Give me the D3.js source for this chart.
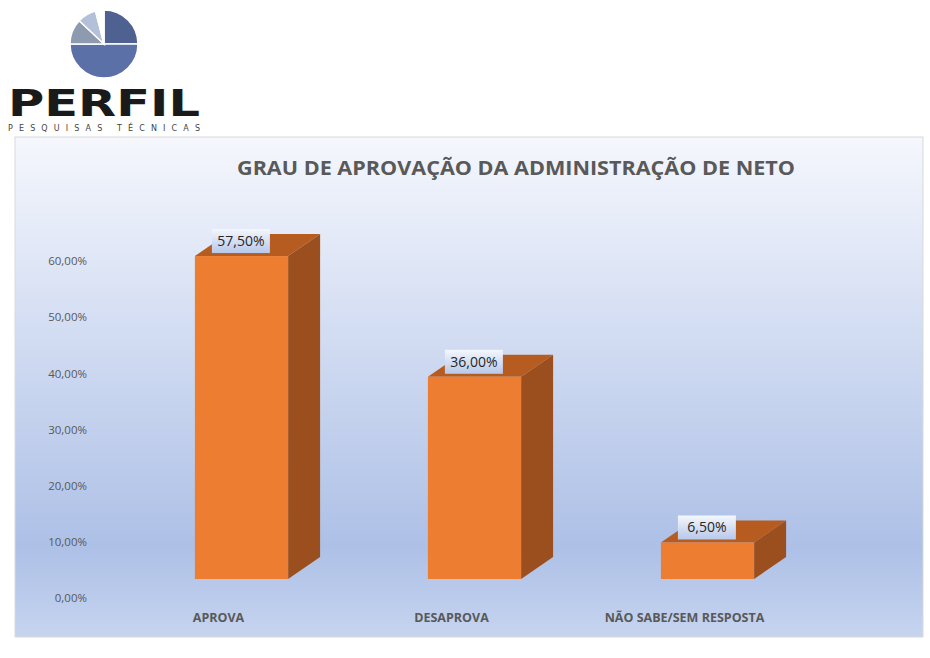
<!DOCTYPE html>
<html>
<head>
<meta charset="utf-8">
<script src="https://cdnjs.cloudflare.com/ajax/libs/d3/7.8.5/d3.min.js"></script>
<style>body{margin:0;background:#fff;font-family:"Open Sans",sans-serif;}</style>
</head>
<body>
<svg id="chart" width="930" height="658"></svg>
<script>
var categories = ["APROVA", "DESAPROVA", "NÃO SABE/SEM RESPOSTA"];
var values = [57.5, 36.0, 6.5];
var tickValues = [0, 10, 20, 30, 40, 50, 60];
var logoSlices = [25, 50, 12, 9, 4];
var logoColors = ["#4f6191", "#5c70a8", "#8e9ab0", "#b4c0da", "#ffffff"];

var svg = d3.select("#chart");
var fmt = function(v){ return d3.format(".2f")(v).replace(".", ",") + "%"; };

// logo
var pie = d3.pie().sort(null).startAngle(0).endAngle(2*Math.PI)(logoSlices);
var arc = d3.arc().innerRadius(0).outerRadius(34);
svg.append("g").attr("transform", "translate(104,44)")
	.selectAll("path").data(pie).enter().append("path")
	.attr("d", arc).attr("fill", function(d, i){ return logoColors[i]; })
	.attr("stroke", "#fff").attr("stroke-width", 1.5);
svg.append("text").attr("x", 8).attr("y", 116).attr("textLength", 192).attr("lengthAdjust", "spacingAndGlyphs")
	.attr("font-family", "DejaVu Sans").attr("font-weight", "bold").attr("font-size", 38).attr("fill", "#1a1a1a").text("PERFIL");
svg.append("text").attr("x", 8).attr("y", 131).attr("textLength", 192)
	.attr("font-family", "DejaVu Sans").attr("font-size", 8).attr("fill", "#444").text("PESQUISAS TÉCNICAS");

// panel
var defs = svg.append("defs");
var g1 = defs.append("linearGradient").attr("id", "bg").attr("x1", 0).attr("y1", 0).attr("x2", 0).attr("y2", 1);
g1.append("stop").attr("offset", "0").attr("stop-color", "#f5f7fd");
g1.append("stop").attr("offset", "0.82").attr("stop-color", "#adc0e6");
g1.append("stop").attr("offset", "1").attr("stop-color", "#c6d4ef");
var g2 = defs.append("linearGradient").attr("id", "lab").attr("x1", 0).attr("y1", 0).attr("x2", 0).attr("y2", 1);
g2.append("stop").attr("offset", "0").attr("stop-color", "#f4f7fd");
g2.append("stop").attr("offset", "1").attr("stop-color", "#b7c8ea");

svg.append("rect").attr("x", 15).attr("y", 137).attr("width", 908).attr("height", 500)
	.attr("fill", "url(#bg)").attr("stroke", "#d9d9d9");
svg.append("text").attr("x", 516).attr("y", 175).attr("text-anchor", "middle")
	.attr("font-size", 20).attr("font-weight", "bold").attr("fill", "#595959")
	.attr("textLength", 558).attr("lengthAdjust", "spacingAndGlyphs")
	.text("GRAU DE APROVAÇÃO DA ADMINISTRAÇÃO DE NETO");

// scales
var y = d3.scaleLinear().domain([0, 60]).range([579, 242]);
var x = d3.scaleBand().domain(categories).range([125, 824]).paddingInner(0.6).paddingOuter(0.3);
var dx = 32, dy = 22;

var axis = svg.append("g").attr("transform", "translate(90,19)")
	.call(d3.axisLeft(y).tickValues(tickValues).tickSize(0).tickFormat(function(d){ return d3.format(".2f")(d).replace(".", ",") + "%"; }));
axis.select(".domain").remove();
axis.selectAll("text").attr("font-size", 11.5).attr("fill", "#595959").attr("font-family", "'Open Sans',sans-serif");

var bars = svg.append("g").selectAll("g").data(values).enter().append("g");
bars.append("path").attr("fill", "#b65c20").attr("d", function(d, i){
	var x0 = x(categories[i]), x1 = x0 + x.bandwidth(), t = y(d);
	return "M" + x0 + "," + t + "L" + (x0+dx) + "," + (t-dy) + "L" + (x1+dx) + "," + (t-dy) + "L" + x1 + "," + t + "Z";
});
bars.append("path").attr("fill", "#9c4f1e").attr("d", function(d, i){
	var x1 = x(categories[i]) + x.bandwidth(), t = y(d), b = y(0);
	return "M" + x1 + "," + t + "L" + (x1+dx) + "," + (t-dy) + "L" + (x1+dx) + "," + (b-dy) + "L" + x1 + "," + b + "Z";
});
bars.append("rect").attr("fill", "#ed7d31")
	.attr("x", function(d, i){ return x(categories[i]); }).attr("y", function(d){ return y(d); })
	.attr("width", x.bandwidth()).attr("height", function(d){ return y(0) - y(d); });

bars.append("rect").attr("fill", "url(#lab)")
	.attr("x", function(d, i){ return x(categories[i]) + 17; }).attr("y", function(d){ return y(d) - 27; })
	.attr("width", 58).attr("height", 24);
bars.append("text").attr("text-anchor", "middle").attr("font-size", 14).attr("fill", "#262626")
	.attr("x", function(d, i){ return x(categories[i]) + 46; }).attr("y", function(d){ return y(d) - 10; })
	.text(fmt);

svg.append("g").selectAll("text").data(categories).enter().append("text")
	.attr("text-anchor", "middle").attr("font-size", 12.5).attr("font-weight", "bold").attr("fill", "#595959")
	.attr("x", function(d){ return x(d) + x.bandwidth()/2 - 23; }).attr("y", 622).text(function(d){ return d; });
</script>
</body>
</html>
